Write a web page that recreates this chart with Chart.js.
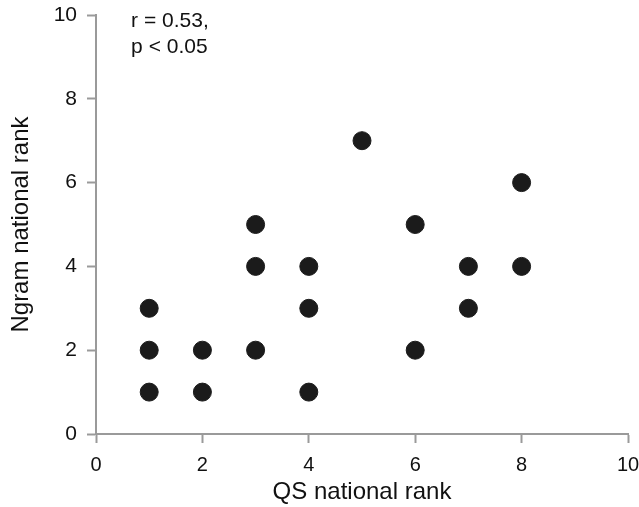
<!DOCTYPE html>
<html>
<head>
<meta charset="utf-8">
<script src="https://cdn.jsdelivr.net/npm/chart.js@4/dist/chart.umd.min.js"></script>
<style>
  html, body { margin: 0; padding: 0; background: #fff; }
  #wrap { width: 639px; height: 507px; }
</style>
</head>
<body>
<div id="wrap"><canvas id="scatter" width="639" height="507"></canvas></div>
<script>
// QS rank vs Ngram rank, one point per institution
const qsRank    = [1, 1, 1, 2, 2, 3, 3, 3, 4, 4, 4, 5, 6, 6, 7, 7, 8, 8];
const ngramRank = [1, 2, 3, 1, 2, 2, 4, 5, 1, 3, 4, 7, 2, 5, 3, 4, 4, 6];
const xTicks = [0, 2, 4, 6, 8, 10];
const yTicks = [0, 2, 4, 6, 8, 10];
const statLines = ["r = 0.53,", "p < 0.05"];

const axisGrey = "#9a9a9a";
const fontFamily = "'Liberation Sans', Arial, Helvetica, sans-serif";

const points = qsRank.map((x, i) => ({ x: x, y: ngramRank[i] }));

// writes the correlation note in the top-left corner of the plot
const statNote = {
  id: "statNote",
  afterDraw(chart) {
    const ctx = chart.ctx;
    const x = chart.scales.x.getPixelForValue(0.66);
    ctx.save();
    ctx.fillStyle = "#111";
    ctx.font = "21px " + fontFamily;
    ctx.textBaseline = "middle";
    statLines.forEach((t, i) => ctx.fillText(t, x, 21 + i * 26));
    ctx.restore();
  }
};

function axis(title, ticks, fit, titlePad, tickSize) {
  return {
    type: "linear",
    min: 0,
    max: 10,
    afterBuildTicks: s => { s.ticks = ticks.map(v => ({ value: v })); },
    afterFit: fit,
    grid: { drawOnChartArea: false, drawTicks: true, tickLength: 9, tickWidth: 2, color: axisGrey },
    border: { color: axisGrey, width: 2 },
    ticks: { color: "#111", font: { family: fontFamily, size: tickSize }, padding: 10 },
    title: { display: true, text: title, color: "#111", padding: titlePad,
             font: { family: fontFamily, size: 24 } }
  };
}

new Chart(document.getElementById("scatter"), {
  type: "scatter",
  data: {
    datasets: [{
      data: points,
      backgroundColor: "#1b1b1b",
      borderColor: "#1b1b1b",
      pointRadius: 9,
      pointHoverRadius: 9
    }]
  },
  options: {
    responsive: false,
    animation: false,
    layout: { padding: 0 },
    plugins: { legend: { display: false }, tooltip: { enabled: false } },
    scales: {
      x: axis("QS national rank", xTicks, s => {
        s.height = 73; s.paddingLeft = 0; s.paddingRight = 11;
      }, { top: 4, bottom: 0 }, 20),
      y: axis("Ngram national rank", yTicks, s => {
        s.width = 96; s.paddingTop = 15; s.paddingBottom = 0;
      }, { top: 7, bottom: 4 }, 21)
    }
  },
  plugins: [statNote]
});
</script>
</body>
</html>
